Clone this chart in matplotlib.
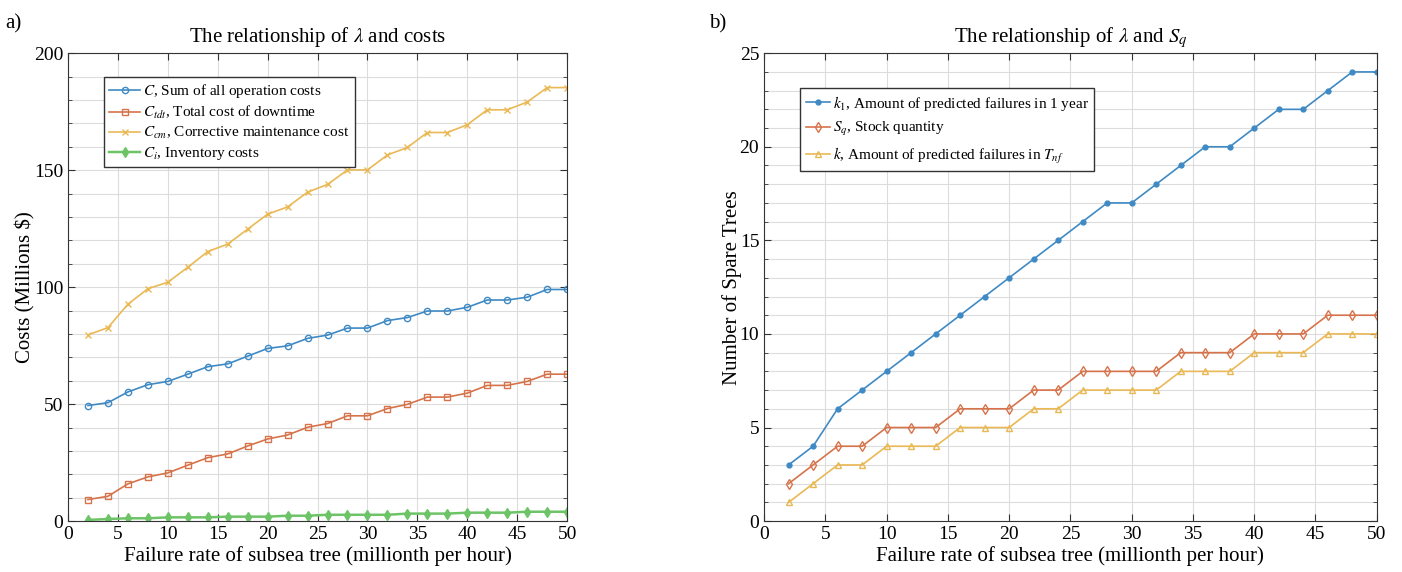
import numpy as np
import matplotlib
matplotlib.use("Agg")
import matplotlib.pyplot as plt
from matplotlib.ticker import MultipleLocator

plt.rcParams['font.family'] = ['Liberation Serif', 'DejaVu Serif']
plt.rcParams['mathtext.fontset'] = 'stix'

# failure rate (millionth per hour)
rate = [2, 4, 6, 8, 10, 12, 14, 16, 18, 20, 22, 24, 26, 28, 30, 32, 34, 36, 38, 40, 42, 44, 46, 48, 50]

# a) costs (millions $)
cost_total = [49.4, 50.6, 55.2, 58.3, 59.7, 62.8, 66.0, 67.2, 70.5, 73.8, 74.9, 78.1, 79.5,
              82.5, 82.5, 85.7, 87.0, 89.8, 89.8, 91.4, 94.5, 94.5, 95.7, 99.0, 99.0]
cost_tdt = [9.2, 10.6, 15.9, 18.9, 20.6, 23.9, 27.1, 28.7, 32.1, 35.1, 36.8, 40.1, 41.7,
            45.0, 45.0, 48.1, 49.9, 53.0, 53.0, 54.7, 58.0, 58.0, 59.7, 62.8, 62.8]
cost_cm = [79.6, 82.7, 92.7, 99.3, 102.1, 108.5, 115.2, 118.4, 124.8, 131.2, 134.3, 140.6, 143.9,
           150.1, 150.1, 156.5, 159.7, 166.1, 166.1, 169.4, 175.8, 175.8, 179.1, 185.3, 185.3]
cost_inv = [0.5, 0.9, 1.2, 1.2, 1.6, 1.6, 1.6, 1.9, 1.9, 1.9, 2.3, 2.3, 2.7,
            2.7, 2.7, 2.7, 3.2, 3.2, 3.2, 3.6, 3.6, 3.6, 4.0, 4.0, 4.0]

# b) number of spare trees
k1 = [3, 4, 6, 7, 8, 9, 10, 11, 12, 13, 14, 15, 16, 17, 17, 18, 19, 20, 20, 21, 22, 22, 23, 24, 24]
sq = [2, 3, 4, 4, 5, 5, 5, 6, 6, 6, 7, 7, 8, 8, 8, 8, 9, 9, 9, 10, 10, 10, 11, 11, 11]
k = [1, 2, 3, 3, 4, 4, 4, 5, 5, 5, 6, 6, 7, 7, 7, 7, 8, 8, 8, 9, 9, 9, 10, 10, 10]

blue = '#3f8ac4'
red = '#d7734a'
yellow = '#eab955'
green = '#6cc466'


def style_axes(ax):
    ax.grid(True, which='both', color='#dcdcdc', linewidth=0.8)
    ax.set_axisbelow(True)
    ax.tick_params(which='both', direction='in', top=True, right=True, labelsize=14, color='#333333')
    ax.tick_params(which='minor', length=3)
    ax.tick_params(which='major', length=5)
    for s in ax.spines.values():
        s.set_color('#333333')
        s.set_linewidth(0.8)


fig = plt.figure(figsize=(14.02, 5.72), dpi=100)
ax1 = fig.add_axes([0.0485, 0.089, 0.356, 0.818])
ax2 = fig.add_axes([0.545, 0.089, 0.437, 0.818])

lw = 1.2
ms = 4.5
ax1.plot(rate, cost_total, color=blue, marker='o', ms=ms, mfc='none', lw=lw, label='$C$, Sum of all operation costs')
ax1.plot(rate, cost_tdt, color=red, marker='s', ms=ms - 0.5, mfc='none', lw=lw, label="$C_{tdt}$, Total cost of downtime")
ax1.plot(rate, cost_cm, color=yellow, marker='x', ms=ms, lw=lw, label="$C_{cm}$, Corrective maintenance cost")
ax1.plot(rate, cost_inv, color=green, marker='d', ms=ms + 1, lw=lw + 0.6, label="$C_i$, Inventory costs")
ax1.set_xlim(0, 50)
ax1.set_ylim(0, 200)
ax1.xaxis.set_major_locator(MultipleLocator(5))
ax1.yaxis.set_major_locator(MultipleLocator(50))
ax1.yaxis.set_minor_locator(MultipleLocator(10))
style_axes(ax1)
ax1.set_xlabel('Failure rate of subsea tree (millionth per hour)', fontsize=15, labelpad=2)
ax1.set_ylabel('Costs (Millions $)', fontsize=15, labelpad=-1)
ax1.set_title(r'The relationship of $\lambda$ and costs', fontsize=15, pad=8)
ax1.legend(loc='upper left', bbox_to_anchor=(0.072, 0.949), borderaxespad=0, fontsize=11,
           handlelength=2.0, handletextpad=0.2, borderpad=0.35, labelspacing=0.25, fancybox=False,
           edgecolor='#333333', framealpha=1)

ax2.plot(rate, k1, color=blue, marker='.', ms=7, lw=lw, label='$k_1$, Amount of predicted failures in 1 year')
ax2.plot(rate, sq, color=red, marker='d', ms=5, mfc='none', lw=lw, label='$S_q$, Stock quantity')
ax2.plot(rate, k, color=yellow, marker='^', ms=5, mfc='none', lw=lw, label='$k$, Amount of predicted failures in $T_{nf}$')
ax2.set_xlim(0, 50)
ax2.set_ylim(0, 25)
ax2.xaxis.set_major_locator(MultipleLocator(5))
ax2.yaxis.set_major_locator(MultipleLocator(5))
ax2.yaxis.set_minor_locator(MultipleLocator(1))
style_axes(ax2)
ax2.set_xlabel('Failure rate of subsea tree (millionth per hour)', fontsize=15, labelpad=2)
ax2.set_ylabel('Number of Spare Trees', fontsize=15, labelpad=-2)
ax2.set_title(r'The relationship of $\lambda$ and $S_q$', fontsize=15, pad=8)
ax2.legend(loc='upper left', bbox_to_anchor=(0.059, 0.925), borderaxespad=0, fontsize=11,
           handlelength=1.6, handletextpad=0.2, borderpad=0.35, labelspacing=0.5, fancybox=False,
           edgecolor='#333333', framealpha=1)

fig.text(0.004, 0.975, 'a)', fontsize=15, va='top')
fig.text(0.506, 0.975, 'b)', fontsize=15, va='top')

fig.savefig('out.png', dpi=100)
